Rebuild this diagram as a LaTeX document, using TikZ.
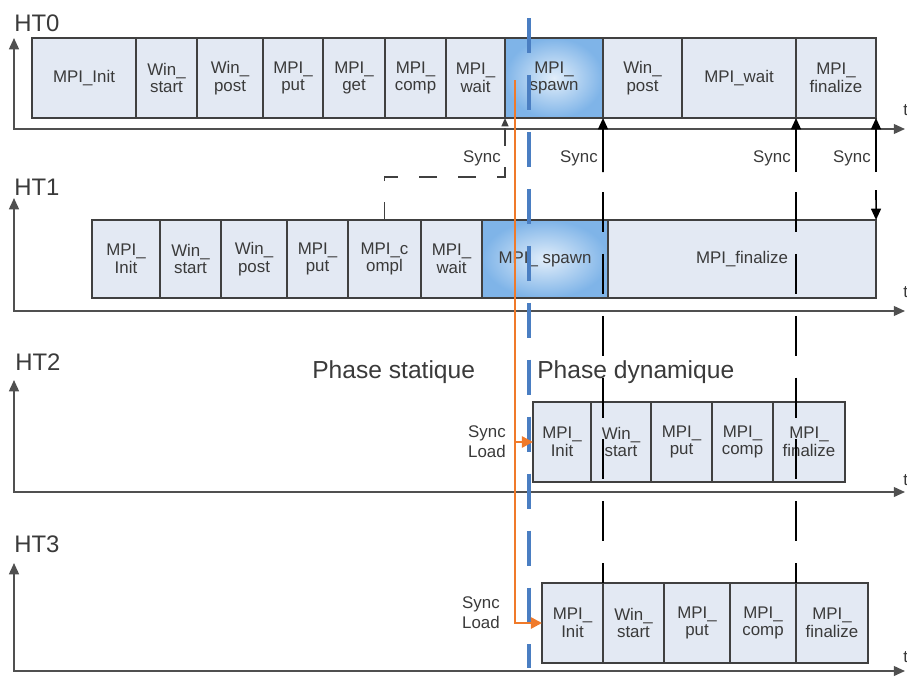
\documentclass[tikz,border=0pt]{standalone}
\usepackage{fontspec}
\setmainfont{Liberation Sans}
\usetikzlibrary{arrows.meta}
\definecolor{boxfill}{HTML}{E3E9F3}
\definecolor{boxline}{HTML}{404040}
\definecolor{txtgray}{HTML}{3A3A3A}
\definecolor{axisgray}{HTML}{505050}
\definecolor{spawnin}{HTML}{E2EEFA}
\definecolor{spawnout}{HTML}{7FB4E8}
\definecolor{loadorange}{HTML}{F07A2A}
\definecolor{phaseblue}{HTML}{4A7EC2}

\begin{document}
\begin{tikzpicture}[x=0.025cm, y=-0.025cm,
  axis/.style={{Triangle[length=8pt, width=7pt]}-{Triangle[length=8pt, width=7pt]}, axisgray, line width=1.2pt},
  box/.style={draw=boxline, fill=boxfill, line width=0.9pt, inner sep=0pt, outer sep=0pt, text=txtgray, align=center, font=\fontsize{12}{12.5}\selectfont},
  spawnbox/.style={box, inner color=spawnin, outer color=spawnout},
  htlabel/.style={txtgray, font=\fontsize{17}{20}\selectfont, inner sep=0pt, anchor=base west},
  phaselabel/.style={txtgray, font=\fontsize{17.5}{20}\selectfont, inner sep=0pt, anchor=base west},
  synclabel/.style={txtgray, font=\fontsize{12}{14}\selectfont, inner sep=0pt, align=right, anchor=east},
  tlabel/.style={txtgray, font=\fontsize{12}{13}\selectfont, inner sep=0pt, anchor=west},
  sync arrow/.style={-{Triangle[length=8pt, width=7pt]}, black, line width=1.1pt},
  sync dash/.style={-{Triangle[length=6pt, width=5pt]}, black!75, line width=1pt, dash pattern=on 12.8pt off 14.9pt},
  long dash/.style={black, line width=1.05pt, dash pattern=on 28.4pt off 15.6pt},
  phase line/.style={phaseblue, line width=2.5pt, dash pattern=on 24.9pt off 15.6pt},
  load/.style={-{Triangle[length=8pt, width=8pt]}, loadorange, line width=1.8pt},
]
\useasboundingbox (0,0) rectangle (907,678);

% ===== HT0 =====
\node[htlabel] (ht0lab) at (14,31) {HT0};
\draw[axis] (14,38) -- (14,129) -- (905,129);
\node[tlabel] (t0) at (903,110) {t};
\foreach \l/\r/\txt [count=\i] in {32/136/{MPI\_Init}, 136/197/{Win\_\\start}, 197/263/{Win\_\\post},
    263/323/{MPI\_\\put}, 323/385/{MPI\_\\get}, 385/446/{MPI\_\\comp}, 446/505/{MPI\_\\wait}}
  \node[box, minimum width={(\r-\l)*0.025cm}, minimum height=2cm] (ht0b\i) at ({(\l+\r)/2},78) {\txt};
\node[spawnbox, minimum width=2.45cm, minimum height=2cm] (ht0sp) at (554,78) {MPI\_\\spawn};
\foreach \l/\r/\txt [count=\i from 8] in {603/682/{Win\_\\post}, 682/796/{MPI\_wait}, 796/876/{MPI\_\\finalize}}
  \node[box, minimum width={(\r-\l)*0.025cm}, minimum height=2cm] (ht0b\i) at ({(\l+\r)/2},78) {\txt};

% ===== HT1 =====
\node[htlabel] (ht1lab) at (14,195) {HT1};
\draw[axis] (14,198) -- (14,311) -- (905,311);
\node[tlabel] (t1) at (903,292) {t};
\foreach \l/\r/\txt [count=\i] in {92/160/{MPI\_\\Init}, 160/221/{Win\_\\start}, 221/287/{Win\_\\post},
    287/348/{MPI\_\\put}, 348/421/{MPI\_c\\ompl}, 421/482/{MPI\_\\wait}}
  \node[box, minimum width={(\r-\l)*0.025cm}, minimum height=1.95cm] (ht1b\i) at ({(\l+\r)/2},259) {\txt};
\node[spawnbox, minimum width=3.15cm, minimum height=1.95cm] (ht1sp) at (545,259) {MPI\_ spawn};
\node[box, minimum width=6.7cm, minimum height=1.95cm] (ht1b7) at (742,259) {MPI\_finalize};

% ===== HT2 =====
\node[htlabel] (ht2lab) at (15,370) {HT2};
\draw[axis] (14,380) -- (14,492) -- (905,492);
\node[tlabel] (t2) at (903,480) {t};
\foreach \l/\r/\txt [count=\i] in {533/591/{MPI\_\\Init}, 591/651/{Win\_\\start}, 651/712/{MPI\_\\put},
    712/773/{MPI\_\\comp}, 773/845/{MPI\_\\finalize}}
  \node[box, minimum width={(\r-\l)*0.025cm}, minimum height=2cm] (ht2b\i) at ({(\l+\r)/2},442) {\txt};

% ===== HT3 =====
\node[htlabel] (ht3lab) at (14,552) {HT3};
\draw[axis] (14,563) -- (14,671) -- (905,671);
\node[tlabel] (t3) at (903,657) {t};
\foreach \l/\r/\txt [count=\i] in {542/603/{MPI\_\\Init}, 603/664/{Win\_\\start}, 664/730/{MPI\_\\put},
    730/796/{MPI\_\\comp}, 796/868/{MPI\_\\finalize}}
  \node[box, minimum width={(\r-\l)*0.025cm}, minimum height=2cm] (ht3b\i) at ({(\l+\r)/2},623) {\txt};

% ===== phases =====
\node[phaselabel] (stat) at (312,378) {Phase statique};
\node[phaselabel] (dyn) at (537,378) {Phase dynamique};

% sync points
\coordinate (sbend) at (385,177);
\coordinate (sb2) at (603,172);
\coordinate (sb3) at (796,172);
\coordinate (sb4) at (876,172);
\coordinate (sd4) at (876,190);
\coordinate (ld2) at (603,192);
\coordinate (ld3) at (796,192);

\draw[long dash] (ld2) -- (ht3b2.north west);
\draw[long dash] (ld3) -- (ht3b5.north west);
\draw[sync dash] (ht1b5.north) -- (ht1b5.north |- sbend) -| (ht0b7.south east);
\draw[sync arrow] (sb2) -- (ht0sp.south east);
\draw[sync arrow] (sb3) -- (ht0b9.south east);
\draw[sync arrow] (sb4) -- (ht0b10.south east);
\draw[sync arrow] (sd4) -- (ht1b7.north east);

\node[synclabel] (sl1) at (501,158) {Sync};
\node[synclabel] (sl2) at (598,158) {Sync};
\node[synclabel] (sl3) at (791,158) {Sync};
\node[synclabel] (sl4) at (871,158) {Sync};

% static / dynamic border
\coordinate (phtop) at (529,18);
\coordinate (phbot) at (529,668);
\draw[phase line] (phtop) -- (phbot);

% load of the new processes
\coordinate (ldtop) at (515,80);
\draw[load] (ldtop) |- (ht3b1.west);
\draw[load] (ht2b1.west -| ldtop) -- (ht2b1.west);
\node[synclabel] (sl5) at (506,442) {Sync\\Load};
\node[synclabel] (sl6) at (500,613) {Sync\\Load};

\end{tikzpicture}
\end{document}
